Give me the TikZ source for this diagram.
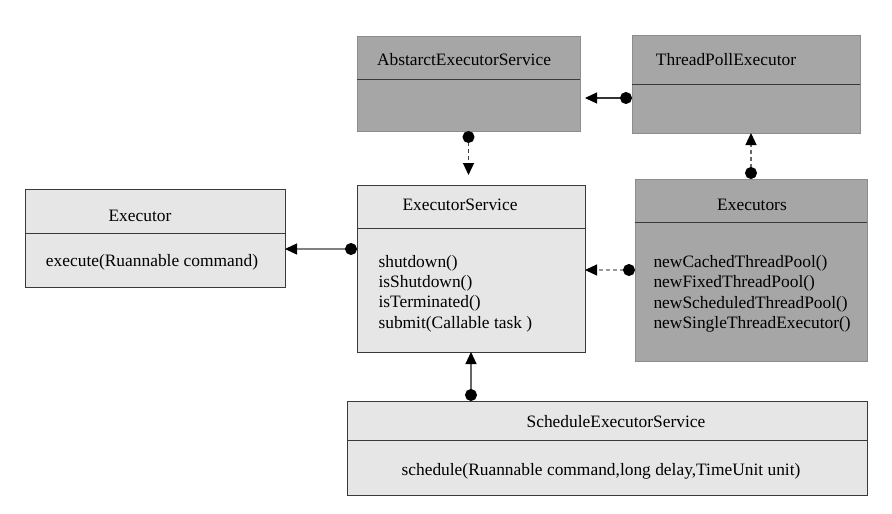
\documentclass[tikz,border=0pt]{standalone}
\usepackage{fontspec}
\setmainfont{Liberation Serif}
\usetikzlibrary{arrows.meta}
\definecolor{boxlight}{HTML}{E6E6E6}
\definecolor{boxdark}{HTML}{A6A6A6}
\definecolor{edgelight}{HTML}{3A3A3A}
\definecolor{edgedark}{HTML}{8C8C8C}
\tikzset{
	lightbox/.style={draw=edgelight, fill=boxlight, line width=0.9pt, inner sep=0pt, outer sep=0pt},
	darkbox/.style={draw=edgedark, fill=boxdark, line width=0.9pt, inner sep=0pt, outer sep=0pt},
	link/.style={line width=1.2pt, {Circle[length=12pt, black]}-{Triangle[length=12pt, width=11pt, black]}},
	dashlink/.style={link, dash pattern=on 4pt off 3pt},
}
\def\divider(#1)(#2){\draw[line width=0.9pt, color=edgelight] (#1.west |- 0,#2) -- (#1.east |- 0,#2);}

\begin{document}
\begin{tikzpicture}[x=1pt, y=-1pt, font=\fontsize{17.4}{20.4}\selectfont]
			%%%%% START %%%%%
			
			\useasboundingbox (0,0) rectangle (892,514);
			
			\node[darkbox, minimum width=223pt, minimum height=95pt] (abstract) at (468.5, 83.5) {};
			\divider(abstract)(79)
			\node (abstractname) at (464, 60) {AbstarctExecutorService};
			
			\node[darkbox, minimum width=228pt, minimum height=98pt] (pool) at (746, 84) {};
			\divider(pool)(84)
			\node (poolname) at (726, 60) {ThreadPollExecutor};
			
			\node[lightbox, minimum width=260pt, minimum height=98pt] (executor) at (155, 238) {};
			\divider(executor)(233)
			\node (executorname) at (140, 216) {Executor};
			\node (executormethods) at (152, 262) {execute(Ruannable command)};
			
			\node[lightbox, minimum width=228pt, minimum height=167pt] (service) at (471, 268.5) {};
			\divider(service)(228)
			\node (servicename) at (460, 205) {ExecutorService};
			\node[anchor=west, align=left] (servicemethods) at (375, 293.5) {shutdown()\\isShutdown()\\isTerminated()\\submit(Callable task )};
			
			\node[darkbox, minimum width=232pt, minimum height=182pt] (executors) at (751, 270) {};
			\divider(executors)(222)
			\node (executorsname) at (752, 205) {Executors};
			\node[anchor=west, align=left] (executorsmethods) at (650, 294) {newCachedThreadPool()\\newFixedThreadPool()\\newScheduledThreadPool()\\newSingleThreadExecutor()};
			
			\node[lightbox, minimum width=520pt, minimum height=94pt] (schedule) at (607, 448) {};
			\divider(schedule)(440)
			\node (schedulename) at (616, 422) {ScheduleExecutorService};
			\node (schedulemethods) at (601, 471) {schedule(Ruannable command,long delay,TimeUnit unit)};
			
			\draw[link, color=black!80, shorten >=5pt] (pool.west |- 0,98) -- (abstract.east |- 0,98);
			\draw[dashlink, color=black!75, shorten >=10pt] (abstract.south) -- (abstract.south |- service.north);
			\draw[dashlink, color=black!60] (executors.north) -- (executors.north |- pool.south);
			\draw[link, color=black!50] (service.west |- 0,249) -- (executor.east |- 0,249);
			\draw[dashlink, color=black!40] (executors.west |- 0,270) -- (service.east |- 0,270);
			\draw[link, color=black!60] (service.south |- schedule.north) -- (service.south);
			
			%%%%% END %%%%%
\end{tikzpicture}
\end{document}
